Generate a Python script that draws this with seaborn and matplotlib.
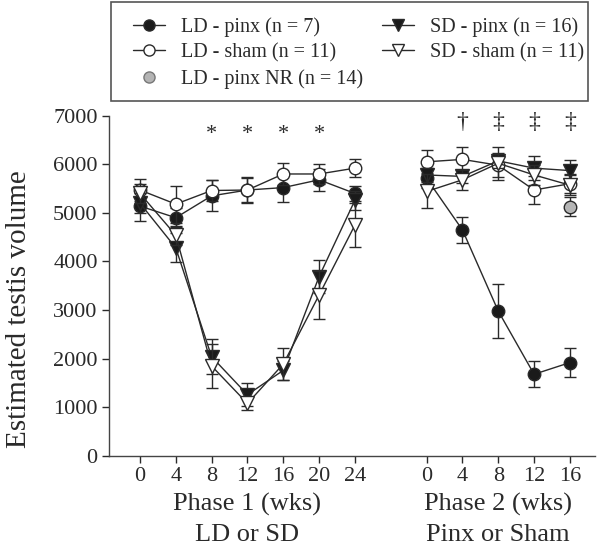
import numpy as np
import pandas as pd
import matplotlib
matplotlib.use('Agg')
import matplotlib.pyplot as plt
from matplotlib.lines import Line2D
from matplotlib.patches import Rectangle
import seaborn as sns

# data (mean, SE)
weeks1 = [0, 4, 8, 12, 16, 20, 24]
weeks2 = [0, 4, 8, 12, 16]

ld_pinx_1 = [5140, 4900, 5350, 5470, 5520, 5680, 5400]
ld_pinx_1_se = [300, 200, 320, 260, 300, 230, 150]
ld_sham_1 = [5470, 5180, 5460, 5470, 5800, 5800, 5920]
ld_sham_1_se = [230, 380, 220, 250, 230, 200, 180]
sd_pinx_1 = [5200, 4280, 2040, 1260, 1760, 3690, 5260]
sd_pinx_1_se = [200, 300, 360, 230, 190, 340, 200]
sd_sham_1 = [5400, 4540, 1850, 1080, 1890, 3310, 4750]
sd_sham_1_se = [200, 200, 460, 140, 320, 500, 450]

ld_pinx_2 = [5710, 4650, 2980, 1680, 1920]
ld_pinx_2_se = [200, 270, 560, 270, 290]
ld_sham_2 = [6050, 6100, 5980, 5470, 5600]
ld_sham_2_se = [240, 260, 250, 290, 200]
sd_pinx_2 = [5780, 5750, 6070, 5920, 5870]
sd_pinx_2_se = [150, 130, 150, 240, 220]
sd_sham_2 = [5440, 5680, 6020, 5780, 5570]
sd_sham_2_se = [350, 200, 340, 200, 200]
nr_weeks = [16]
nr_2 = [5130]
nr_2_se = [200]

star_weeks = [8, 12, 16, 20]
dagger_marks = ['\u2020', '\u2021', '\u2021', '\u2021']
dagger_weeks = [4, 8, 12, 16]

labels = {
    'ld_pinx': 'LD - pinx (n = 7)',
    'ld_sham': 'LD - sham (n = 11)',
    'nr': 'LD - pinx NR (n = 14)',
    'sd_pinx': 'SD - pinx (n = 16)',
    'sd_sham': 'SD - sham (n = 11)',
}

rows = []
def add(group, phase, weeks, vals, ses):
    for w, v, s in zip(weeks, vals, ses):
        pos = w / 4 if phase == 1 else w / 4 + 8
        rows.append(dict(group=group, phase=phase, week=w, pos=pos, value=v, se=s))

add('ld_pinx', 1, weeks1, ld_pinx_1, ld_pinx_1_se)
add('ld_sham', 1, weeks1, ld_sham_1, ld_sham_1_se)
add('sd_pinx', 1, weeks1, sd_pinx_1, sd_pinx_1_se)
add('sd_sham', 1, weeks1, sd_sham_1, sd_sham_1_se)
add('ld_pinx', 2, weeks2, ld_pinx_2, ld_pinx_2_se)
add('ld_sham', 2, weeks2, ld_sham_2, ld_sham_2_se)
add('sd_pinx', 2, weeks2, sd_pinx_2, sd_pinx_2_se)
add('sd_sham', 2, weeks2, sd_sham_2, sd_sham_2_se)
add('nr', 2, nr_weeks, nr_2, nr_2_se)
df = pd.DataFrame(rows)

styles = {
    'ld_pinx': dict(marker='o', markerfacecolor='#1a1a1a', markersize=9),
    'ld_sham': dict(marker='o', markerfacecolor='white', markersize=9),
    'sd_pinx': dict(marker='v', markerfacecolor='#1a1a1a', markersize=10),
    'sd_sham': dict(marker='v', markerfacecolor='white', markersize=10),
    'nr': dict(marker='o', markerfacecolor='#b4b4b4', markersize=9),
}

sns.set_style('ticks')
plt.rcParams['font.family'] = ['Liberation Serif', 'DejaVu Serif']
ink = '#2a2a2a'
plt.rcParams['text.color'] = ink
plt.rcParams['axes.labelcolor'] = ink
plt.rcParams['xtick.color'] = ink
plt.rcParams['ytick.color'] = ink

fig = plt.figure(figsize=(6.01, 5.56), dpi=100)
ax = fig.add_axes([0.181, 0.180, 0.809, 0.612])

order = ['ld_pinx', 'ld_sham', 'sd_pinx', 'sd_sham', 'nr']
for z, g in enumerate(order):
    for ph in [1, 2]:
        sub = df[(df.group == g) & (df.phase == ph)]
        if sub.empty:
            continue
        ax.errorbar(sub.pos, sub.value, yerr=sub.se, fmt='none', ecolor=ink,
                    elinewidth=1, capsize=4, capthick=1, zorder=2 + z)
        sns.lineplot(data=sub, x='pos', y='value', ax=ax, color=ink, lw=1,
                     markeredgecolor=ink, markeredgewidth=1,
                     zorder=3 + z, legend=False, **styles[g])

ax.set_xlim(-0.87, 12.7)
ax.set_ylim(0, 7000)
ax.set_yticks(range(0, 7001, 1000))
ax.set_xticks([w / 4 for w in weeks1] + [w / 4 + 8 for w in weeks2])
ax.set_xticklabels([str(w) for w in weeks1] + [str(w) for w in weeks2])
ax.tick_params(labelsize=16, length=5, width=1, pad=3)
ax.set_xlabel('')
ax.set_ylabel('Estimated testis volume', fontsize=21)
ax.yaxis.set_label_coords(-0.158, 0.43)
for s in ['top', 'right']:
    ax.spines[s].set_visible(False)
for s in ['left', 'bottom']:
    ax.spines[s].set_color('#444444')
    ax.spines[s].set_linewidth(1)

for w in star_weeks:
    ax.text(w / 4, 6620, '*', ha='center', va='center', fontsize=16, color=ink)
for w, m in zip(dagger_weeks, dagger_marks):
    ax.text(w / 4 + 8, 6850, m, ha='center', va='center', fontsize=17,
            color=ink, clip_on=False)

tr = ax.get_xaxis_transform()
ax.text(3, -0.11, 'Phase 1 (wks)\nLD or SD', transform=tr, ha='center',
        va='top', fontsize=19, linespacing=1.42)
ax.text(10, -0.11, 'Phase 2 (wks)\nPinx or Sham', transform=tr, ha='center',
        va='top', fontsize=19, linespacing=1.42)

handles = []
for g in ['ld_pinx', 'ld_sham', 'nr', 'sd_pinx', 'sd_sham']:
    st = styles[g]
    handles.append(Line2D([], [], color=ink, lw=1 if g != 'nr' else 0,
                          marker=st['marker'], markerfacecolor=st['markerfacecolor'],
                          markeredgecolor=ink if g != 'nr' else '#777777',
                          markersize=st['markersize'] - 1, label=labels[g]))
fig.legend(handles=handles, loc='upper left', bbox_to_anchor=(133 / 601, 1 - 17 / 556),
           ncol=2, fontsize=14.5, frameon=False, handlelength=1.6,
           handletextpad=0.8, columnspacing=0.9, labelspacing=0.32,
           borderpad=0, borderaxespad=0)
# legend frame
fig.patches.append(Rectangle((111 / 601, 1 - 101 / 556), 477 / 601, 99 / 556,
                             transform=fig.transFigure, fill=False,
                             edgecolor='#555555', lw=1.2))

fig.savefig('out.png', dpi=100)
